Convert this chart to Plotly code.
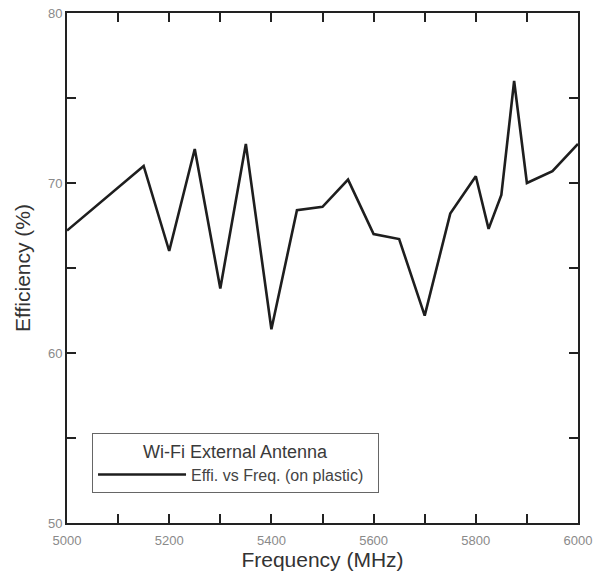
import plotly.graph_objects as go

freq_mhz = [5000, 5150, 5200, 5250, 5300, 5350, 5400, 5450, 5500, 5550, 5600, 5650,
            5700, 5750, 5800, 5825, 5850, 5875, 5900, 5950, 6000]
efficiency = [67.2, 71.0, 66.0, 72.0, 63.8, 72.3, 61.4, 68.4, 68.6, 70.2, 67.0, 66.7,
              62.2, 68.2, 70.4, 67.3, 69.3, 76.0, 70.0, 70.7, 72.3]

x_tickvals = list(range(5000, 6001, 100))
x_ticktext = [str(v) if v % 200 == 0 else "" for v in x_tickvals]
y_tickvals = list(range(50, 81, 5))
y_ticktext = [str(v) if v % 10 == 0 else "" for v in y_tickvals]

FONT = "Liberation Sans, Arial, sans-serif"

fig = go.Figure()
fig.add_trace(go.Scatter(
    x=freq_mhz, y=efficiency, mode="lines",
    line=dict(color="#1e1e1e", width=2.6),
    name="Effi. vs Freq. (on plastic)",
))

axis_common = dict(
    showgrid=False, zeroline=False, showline=True, linecolor="#222222", linewidth=2,
    ticks="inside", ticklen=9, tickwidth=2, tickcolor="#222222", mirror="ticks",
    automargin=False,
    tickfont=dict(family=FONT, size=13, color="#8a8a8a"),
)

fig.update_layout(
    width=601, height=574,
    margin=dict(l=67, r=23, t=13, b=51),
    paper_bgcolor="white", plot_bgcolor="white",
    font=dict(family=FONT, color="#333333"),
    showlegend=True,
    legend=dict(
        orientation="h",
        x=0.049, y=0.176, xanchor="left", yanchor="top",
        bordercolor="#666666", borderwidth=1, bgcolor="white",
        title=dict(text="Wi-Fi External Antenna", side="top center",
                   font=dict(size=18, color="#3a3a3a")),
        font=dict(size=16, color="#444444"),
        itemwidth=88, entrywidth=182,
    ),
    xaxis=dict(range=[5000, 6000], tickvals=x_tickvals, ticktext=x_ticktext,
               ticklabelstandoff=4,
               title=dict(text="Frequency (MHz)", font=dict(size=21, color="#333333"), standoff=0),
               **axis_common),
    yaxis=dict(range=[50, 80], tickvals=y_tickvals, ticktext=y_ticktext,
               title=dict(text="Efficiency (%)", font=dict(size=21, color="#333333"), standoff=12),
               **axis_common),
)

fig.write_html("out.html", config={"displayModeBar": False},
               post_script="document.body.style.margin='0px';")
